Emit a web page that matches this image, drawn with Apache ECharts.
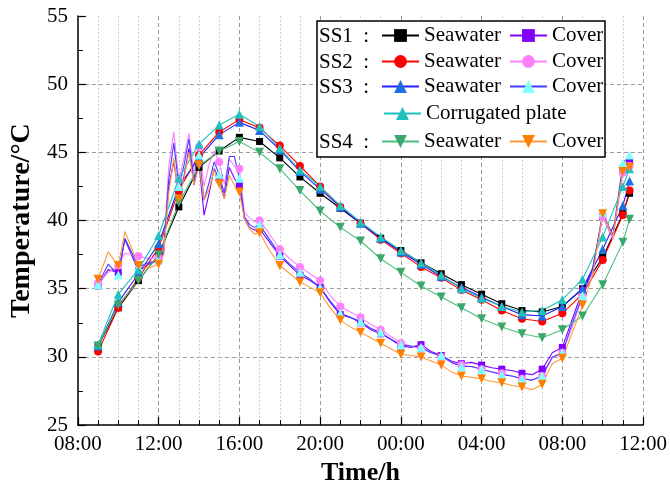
<!DOCTYPE html>
<html lang="en">
<head>
  <meta charset="UTF-8">
  <title>Temperature</title>
  <script src="https://cdn.jsdelivr.net/npm/echarts@6/dist/echarts.min.js"></script>
  <style>
    html, body { margin: 0; padding: 0; background: #fff; }
    #main { width: 670px; height: 491px; }
  </style>
</head>
<body>
  <div id="main"></div>
  <script>
    // hours after 08:00 of day one
    const seaHours = [1, 2, 3, 4, 5, 6, 7, 8, 9, 10, 11, 12, 13, 14, 15, 16, 17, 18, 19, 20, 21, 22, 23, 24, 25, 26, 27, 27.33]
    const coverHours = [1, 1.5, 2, 2.33, 3, 3.5, 4, 4.25, 4.5, 4.75, 5, 5.25, 5.5, 5.75, 6, 6.25, 6.5, 6.75, 7, 7.25, 7.5, 7.75, 8, 8.25, 8.5, 8.75,
      9, 9.5, 10, 10.5, 11, 11.5, 12, 12.5, 13, 13.5, 14, 14.5, 15, 15.5, 16, 16.5, 17, 17.5, 18, 18.5, 19, 19.5, 20, 20.5,
      21, 21.5, 22, 22.5, 23, 23.5, 24, 24.5, 25, 25.5, 26, 26.5, 27, 27.33]

    // seawater temperatures
    const ss1Sea = [30.8, 33.6, 35.6, 37.5, 41.0, 43.9, 45.1, 46.1, 45.8, 44.6, 43.2, 42.0, 40.9, 39.8, 38.7, 37.8, 36.9, 36.1, 35.3, 34.6, 33.9, 33.4, 33.3, 33.7, 35.0, 37.3, 40.5, 42.0]
    const ss2Sea = [30.4, 33.6, 35.8, 38.0, 42.2, 44.8, 46.5, 47.4, 46.8, 45.5, 44.0, 42.5, 41.0, 39.8, 38.6, 37.6, 36.6, 35.8, 34.9, 34.2, 33.4, 32.8, 32.6, 33.2, 34.6, 37.1, 40.4, 42.2]
    const ss3Sea = [30.8, 34.0, 36.1, 38.3, 42.5, 44.6, 46.3, 47.2, 46.6, 45.2, 43.6, 42.3, 41.0, 39.8, 38.7, 37.7, 36.8, 35.9, 35.1, 34.4, 33.7, 33.1, 33.0, 33.7, 35.0, 37.9, 41.1, 42.9]
    const ss3Plate = [30.9, 34.6, 36.4, 38.9, 43.1, 45.6, 47.0, 47.8, 46.9, 45.3, 43.7, 42.5, 41.1, 39.9, 38.8, 37.8, 36.9, 36.0, 35.0, 34.3, 33.7, 33.3, 33.4, 34.2, 35.7, 38.8, 42.5, 43.8]
    const ss4Sea = [30.8, 33.8, 35.6, 37.5, 41.3, 44.0, 45.1, 45.8, 45.0, 43.8, 42.2, 40.7, 39.5, 38.5, 37.2, 36.2, 35.2, 34.4, 33.6, 32.8, 32.2, 31.7, 31.4, 32.0, 33.0, 35.3, 38.4, 40.1]

    // cover temperatures
    const ss1Cover = [35.2, 36.4, 36.2, 38.6, 36.3, 36.8, 37.1, 37.6, 42.5, 44.3, 42.0, 43.2, 45.3, 42.6, 44.2, 40.4, 42.0, 43.8, 43.1, 41.6, 43.9, 43.1, 42.6, 40.1, 39.5, 39.3,
      39.4, 38.4, 37.4, 36.7, 36.0, 35.6, 35.1, 34.0, 33.1, 32.9, 32.5, 32.0, 31.7, 31.3, 30.8, 30.7, 30.9, 30.4, 30.1, 29.7, 29.5, 29.6, 29.4, 29.2,
      29.1, 29.0, 28.8, 28.7, 29.1, 30.3, 30.7, 32.8, 34.9, 36.5, 40.3, 38.8, 43.8, 44.3]
    const ss2Cover = [35.4, 36.2, 36.7, 37.6, 37.4, 37.2, 37.3, 38.0, 44.0, 46.5, 43.0, 44.5, 46.4, 43.5, 45.4, 42.5, 44.1, 45.1, 44.3, 42.7, 44.5, 44.0, 43.8, 40.6, 40.2, 39.9,
      40.0, 39.0, 37.9, 37.2, 36.6, 36.1, 35.6, 34.5, 33.7, 33.3, 32.9, 32.4, 32.0, 31.5, 31.0, 30.8, 30.6, 30.3, 30.0, 29.6, 29.4, 29.3, 29.1, 28.9,
      28.8, 28.6, 28.4, 28.3, 28.6, 29.9, 30.3, 32.2, 34.5, 36.2, 40.3, 38.6, 43.5, 44.0]
    const ss3Cover = [35.3, 36.8, 36.0, 38.7, 36.6, 36.9, 37.1, 37.8, 43.0, 45.7, 42.5, 44.0, 46.0, 42.8, 44.8, 41.5, 42.8, 44.3, 43.4, 42.0, 44.7, 44.7, 43.1, 40.3, 39.7, 39.5,
      39.7, 38.6, 37.5, 36.8, 36.2, 35.7, 35.1, 34.1, 33.2, 32.9, 32.6, 32.1, 31.8, 31.3, 30.9, 30.8, 30.7, 30.3, 30.1, 29.6, 29.3, 29.3, 29.1, 28.9,
      28.7, 28.6, 28.4, 28.3, 28.6, 30.0, 30.3, 32.5, 34.5, 36.4, 40.6, 38.9, 44.2, 44.8]
    const ss4Cover = [35.7, 37.7, 36.7, 39.2, 36.7, 36.5, 36.8, 37.5, 42.0, 44.6, 41.6, 43.0, 45.0, 42.6, 44.1, 41.5, 42.3, 43.7, 42.7, 41.6, 43.3, 42.6, 42.1, 40.1, 39.4, 39.0,
      39.1, 37.8, 36.7, 36.1, 35.5, 35.1, 34.7, 33.6, 32.7, 32.2, 31.8, 31.4, 31.0, 30.6, 30.2, 30.1, 30.0, 29.7, 29.4, 28.9, 28.6, 28.5, 28.4, 28.2,
      28.1, 27.9, 27.8, 27.6, 28.0, 29.5, 29.9, 31.8, 33.8, 36.0, 40.5, 38.8, 43.6, 43.9]

    const font = 'Liberation Serif'
    const lastHour = 27.33

    function pairs(hours, vals) {
      return hours.map(function (h, i) { return [h, vals[i]] })
    }

    // markers only on the full hours (and the last reading)
    function makeSeries(name, hours, vals, symbol, size, markColor, lineColor, rotate) {
      return {
        name: name,
        type: 'line',
        data: pairs(hours, vals),
        symbol: symbol,
        symbolRotate: rotate || 0,
        showAllSymbol: true,
        symbolSize: function (v) {
          return (Number.isInteger(v[0]) || v[0] === lastHour) ? size : 0
        },
        itemStyle: { color: markColor, borderWidth: 0 },
        lineStyle: { color: lineColor, width: 1.1 },
        emphasis: { disabled: true }
      }
    }

    const series = [
      makeSeries('SS1 Seawater', seaHours, ss1Sea, 'rect', 7, '#000000', '#000000'),
      makeSeries('SS1 Cover', coverHours, ss1Cover, 'rect', 7, '#7f00ff', '#7f00ff'),
      makeSeries('SS2 Seawater', seaHours, ss2Sea, 'circle', 8, '#ff0000', '#ff0000'),
      makeSeries('SS2 Cover', coverHours, ss2Cover, 'circle', 8, '#ff80ff', '#ff80ff'),
      makeSeries('SS3 Seawater', seaHours, ss3Sea, 'triangle', 9, '#1e6fdf', '#2020ff'),
      makeSeries('SS3 Cover', coverHours, ss3Cover, 'triangle', 9, '#80ffff', '#3f3fff'),
      makeSeries('SS3 Corrugated plate', seaHours, ss3Plate, 'triangle', 9, '#20c0c0', '#20c0c0'),
      makeSeries('SS4 Seawater', seaHours, ss4Sea, 'triangle', 9, '#3aa86a', '#4cbf7c', 180),
      makeSeries('SS4 Cover', coverHours, ss4Cover, 'triangle', 9, '#ff8000', '#ff9a3a', 180)
    ]

    // legend rows, laid out like the original box
    const legendRows = [
      { names: ['SS1 Seawater', 'SS1 Cover'], top: 25, left: 381 },
      { names: ['SS2 Seawater', 'SS2 Cover'], top: 51, left: 381 },
      { names: ['SS3 Seawater', 'SS3 Cover'], top: 76, left: 381 },
      { names: ['SS3 Corrugated plate'], top: 103, left: 383 },
      { names: ['SS4 Seawater', 'SS4 Cover'], top: 131, left: 381 }
    ]
    const rowLabels = [['SS1  :', 36], ['SS2  :', 62], ['SS3  :', 87], ['SS4  :', 142]]

    const legends = legendRows.map(function (r) {
      return {
        data: r.names,
        top: r.top,
        left: r.left,
        orient: 'horizontal',
        padding: 0,
        itemWidth: 37,
        itemHeight: 16,
        itemGap: 8,
        selectedMode: false,
        z: 10,
        formatter: function (n) { return n.slice(4) },
        textStyle: { fontFamily: font, fontSize: 21, color: '#000' }
      }
    })

    const graphics = [{
      type: 'rect',
      shape: { x: 317, y: 21, width: 288, height: 136 },
      style: { fill: '#fff', stroke: '#000', lineWidth: 1.5 },
      z: 3
    }].concat(rowLabels.map(function (l) {
      return {
        type: 'text',
        x: 319,
        y: l[1],
        z: 11,
        style: { text: l[0], font: '21px "' + font + '"', fill: '#000', verticalAlign: 'middle' }
      }
    }))

    const chart = echarts.init(document.getElementById('main'))
    chart.setOption({
      animation: false,
      backgroundColor: '#fff',
      grid: { left: 73, right: 23, top: 16, bottom: 61 },
      legend: legends,
      graphic: graphics,
      xAxis: {
        type: 'value',
        min: 0,
        max: 28,
        interval: 4,
        name: 'Time/h',
        nameLocation: 'middle',
        nameGap: 33,
        nameTextStyle: { fontFamily: font, fontSize: 26, fontWeight: 'bold', color: '#000' },
        axisLine: { lineStyle: { color: '#000', width: 1.5 } },
        axisTick: { inside: true, length: 8, lineStyle: { color: '#000', width: 1.2 } },
        minorTick: { show: true, splitNumber: 4, length: 5, lineStyle: { color: '#000' } },
        axisLabel: {
          margin: 9,
          fontFamily: font,
          fontSize: 21,
          color: '#000',
          formatter: function (v) {
            const h = (8 + v) % 24
            return (h < 10 ? '0' : '') + h + ':00'
          }
        },
        splitLine: { show: true, showMinLine: false, showMaxLine: true, lineStyle: { color: '#9a9a9a', type: [4, 3], width: 1 } },
        minorSplitLine: { show: true, lineStyle: { color: '#cfcfcf', type: [2, 2], width: 1 } }
      },
      yAxis: {
        type: 'value',
        min: 25,
        max: 55,
        interval: 5,
        name: 'Temperature/°C',
        nameLocation: 'middle',
        nameGap: 34,
        nameTextStyle: { fontFamily: font, fontSize: 28, fontWeight: 'bold', color: '#000' },
        axisLine: { show: true, lineStyle: { color: '#000', width: 1.5 } },
        axisTick: { show: true, inside: true, length: 8, lineStyle: { color: '#000', width: 1.2 } },
        minorTick: { show: true, splitNumber: 2, length: 5, lineStyle: { color: '#000' } },
        axisLabel: { margin: 10, fontFamily: font, fontSize: 21, color: '#000' },
        splitLine: { show: true, showMinLine: false, showMaxLine: false, lineStyle: { color: '#9a9a9a', type: [4, 3], width: 1 } }
      },
      series: series
    })
  </script>
</body>
</html>
